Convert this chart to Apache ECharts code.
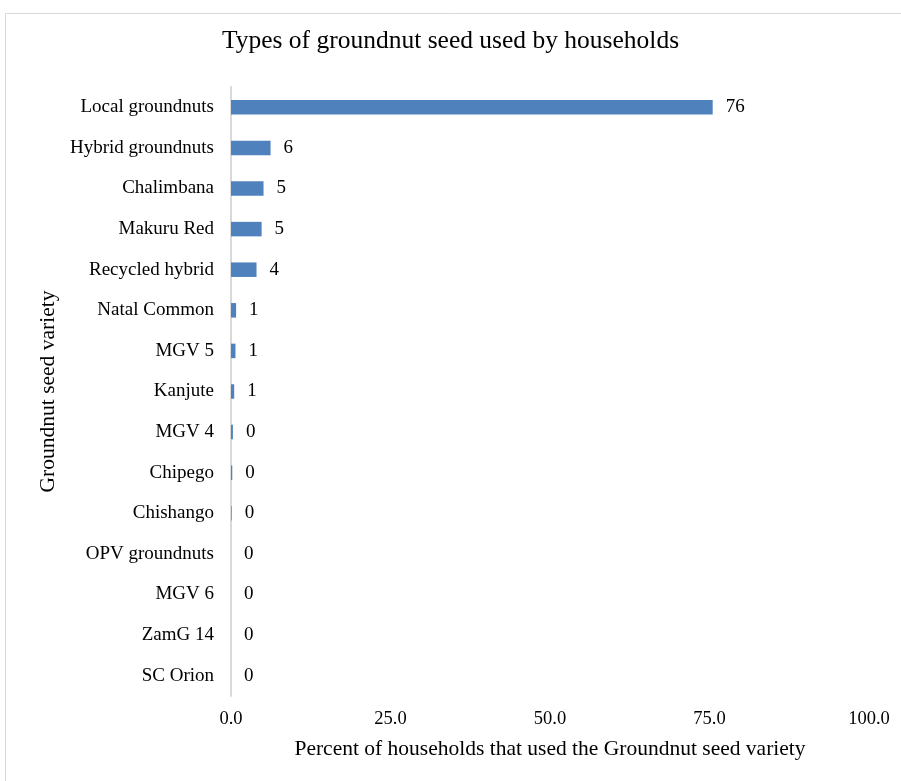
<!DOCTYPE html>
<html><head><meta charset="utf-8">
<script src="https://cdn.jsdelivr.net/npm/echarts@6/dist/echarts.min.js"></script>
<style>html,body{margin:0;padding:0;background:#fff}#c{width:901px;height:781px}</style>
</head><body><div id="c"></div>
<script>
const categories = ["Local groundnuts","Hybrid groundnuts","Chalimbana","Makuru Red","Recycled hybrid","Natal Common","MGV 5","Kanjute","MGV 4","Chipego","Chishango","OPV groundnuts","MGV 6","ZamG 14","SC Orion"];
const values = [75.5, 6.2, 5.1, 4.8, 4.0, 0.8, 0.7, 0.5, 0.3, 0.2, 0.1, 0, 0, 0, 0];
const xTicks = [0, 25, 50, 75, 100];

const font = '"Liberation Serif","Times New Roman",serif';
const chart = echarts.init(document.getElementById('c'));
chart.setOption({
  animation: false,
  graphic: [{type:'rect', shape:{x:5.5,y:13.5,width:900,height:770}, style:{fill:'none', stroke:'#d9d9d9', lineWidth:1}}],
  title: {text:'Types of groundnut seed used by households', left:'center', top:23,
    textStyle:{fontFamily:font, fontSize:25.5, fontWeight:'normal', color:'#000'}},
  grid: {left:231, right:32, top:87, bottom:85, containLabel:false},
  xAxis: {type:'value', min:0, max:100, interval:25,
    axisLine:{show:false}, axisTick:{show:false}, splitLine:{show:false},
    axisLabel:{fontFamily:font, fontSize:18.5, color:'#000', margin:14,
      formatter: v => xTicks.includes(v) ? v.toFixed(1) : ''},
    name:'Percent of households that used the Groundnut seed variety', nameLocation:'middle', nameGap:42,
    nameTextStyle:{fontFamily:font, fontSize:21.5, color:'#000'}},
  yAxis: {type:'category', data:categories, inverse:true,
    axisLine:{show:true, lineStyle:{color:'#d9d9d9', width:2}}, axisTick:{show:false},
    axisLabel:{fontFamily:font, fontSize:19, color:'#000', margin:17, padding:[4,0,0,0]},
    name:'Groundnut seed variety', nameLocation:'middle', nameGap:172, nameRotate:90,
    nameTextStyle:{fontFamily:font, fontSize:21.5, color:'#000'}},
  series: [{type:'bar', data:values, barWidth:14.5,
    itemStyle:{color:'#4f81bd'},
    label:{show:true, position:'right', distance:13, fontFamily:font, fontSize:19, color:'#000',
      padding:[4,0,0,0],
      formatter: p => String(Math.round(p.value))}}]
});
</script></body></html>
